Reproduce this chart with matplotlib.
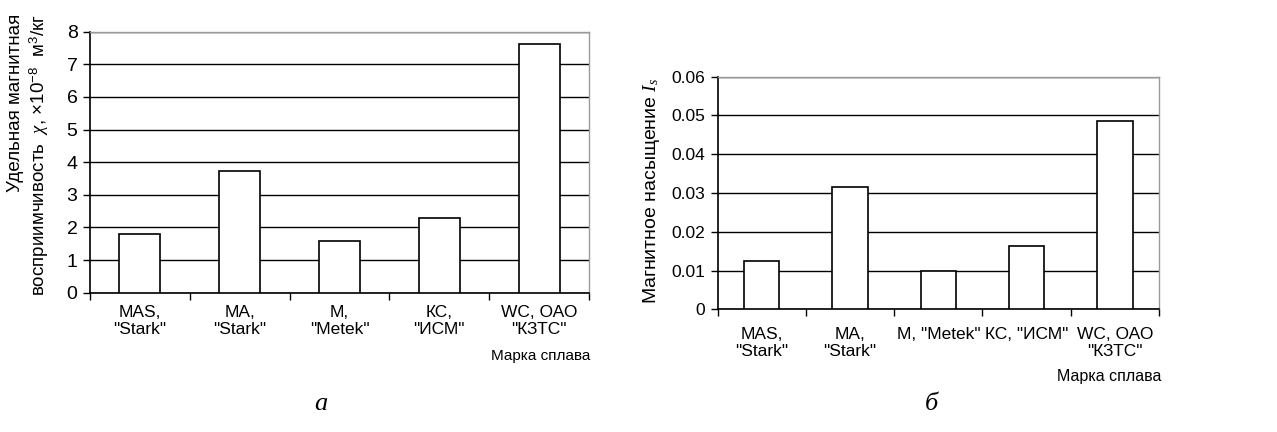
import matplotlib
matplotlib.use("Agg")
import matplotlib.pyplot as plt
import numpy as np

plt.rcParams['font.family'] = ['Liberation Sans', 'DejaVu Sans']
plt.rcParams['mathtext.fontset'] = 'custom'
plt.rcParams['mathtext.rm'] = 'Liberation Sans'
plt.rcParams['mathtext.it'] = 'Liberation Serif:italic'
plt.rcParams['mathtext.sf'] = 'Liberation Sans'

# ---- data ----
labels_a = ['MAS,\n"Stark"', 'MA,\n"Stark"', 'M,\n"Metek"', 'КС,\n"ИСМ"', 'WC, ОАО\n"КЗТС"']
values_a = [1.79, 3.74, 1.60, 2.28, 7.62]
labels_b = ['MAS,\n"Stark"', 'MA,\n"Stark"', 'M, "Metek"', 'КС, "ИСМ"', 'WC, ОАО\n"КЗТС"']
values_b = [0.0125, 0.0315, 0.0099, 0.0162, 0.0487]
yticks_a = [0, 1, 2, 3, 4, 5, 6, 7, 8]
yticks_b = [0, 0.01, 0.02, 0.03, 0.04, 0.05, 0.06]
ytick_labels_b = ['0', '0.01', '0.02', '0.03', '0.04', '0.05', '0.06']

W, H = 1277, 432
fig = plt.figure(figsize=(W / 100, H / 100), dpi=100)


def frac(x0, y0, x1, y1):
    return [x0 / W, 1 - y1 / H, (x1 - x0) / W, (y1 - y0) / H]


def style(ax, labels, values, yticks, width, ylabels=None, tickfs=12, xpad=8):
    x = np.arange(len(labels))
    ax.bar(x, values, width=width, color='white', edgecolor='black', linewidth=1.2, zorder=3)
    ax.set_xlim(-0.5, len(labels) - 0.5)
    ax.set_ylim(yticks[0], yticks[-1])
    ax.set_yticks(yticks)
    if ylabels is not None:
        ax.set_yticklabels(ylabels)
    ax.set_xticks(np.arange(-0.5, len(labels)), minor=False)
    ax.set_xticklabels([''] * (len(labels) + 1))
    ax.set_xticks(x, minor=True)
    ax.set_xticklabels(labels, minor=True, fontsize=12.5, linespacing=1.15)
    ax.tick_params(axis='x', which='minor', length=0, pad=xpad)
    ax.tick_params(axis='x', which='major', length=5, width=1, direction='out')
    ax.tick_params(axis='y', length=5, width=1, direction='out', labelsize=tickfs, pad=4)
    ax.yaxis.grid(True, color='black', linewidth=1.0, zorder=0)
    ax.set_axisbelow(True)
    for s in ['top', 'right']:
        ax.spines[s].set_color('#9a9a9a')
        ax.spines[s].set_linewidth(1.0)
    for s in ['left', 'bottom']:
        ax.spines[s].set_color('black')
        ax.spines[s].set_linewidth(1.2)


ax1 = fig.add_axes(frac(90, 31.7, 589, 292.7))
style(ax1, labels_a, values_a, yticks_a, 0.41, tickfs=14, xpad=9)

ax2 = fig.add_axes(frac(717.7, 76.7, 1159, 309.3))
style(ax2, labels_b, values_b, yticks_b, 0.40, ylabels=ytick_labels_b, tickfs=12.5, xpad=13)

# y labels
fig.text(29 / W, 1 - 14 / H,
         'Удельная магнитная\nвосприимчивость  $\\chi$, ×10$^{-8}$  м$^3$/кг',
         rotation=90, ha='center', va='top', multialignment='right',
         fontsize=13.5, linespacing=1.22)
fig.text(651 / W, 1 - 191 / H, 'Магнитное насыщение $I_s$',
         rotation=90, ha='center', va='center', fontsize=14)

# x axis titles
fig.text(590 / W, 1 - 356 / H, 'Марка сплава', ha='right', va='center', fontsize=11)
fig.text(1161 / W, 1 - 376 / H, 'Марка сплава', ha='right', va='center', fontsize=11.5)

# panel letters
fig.text(321 / W, 1 - 404 / H, 'а', ha='center', va='center', fontsize=19,
         family='Liberation Serif', style='italic')
fig.text(931 / W, 1 - 404 / H, 'б', ha='center', va='center', fontsize=19,
         family='Liberation Serif', style='italic')

fig.savefig('out.png', dpi=100)
